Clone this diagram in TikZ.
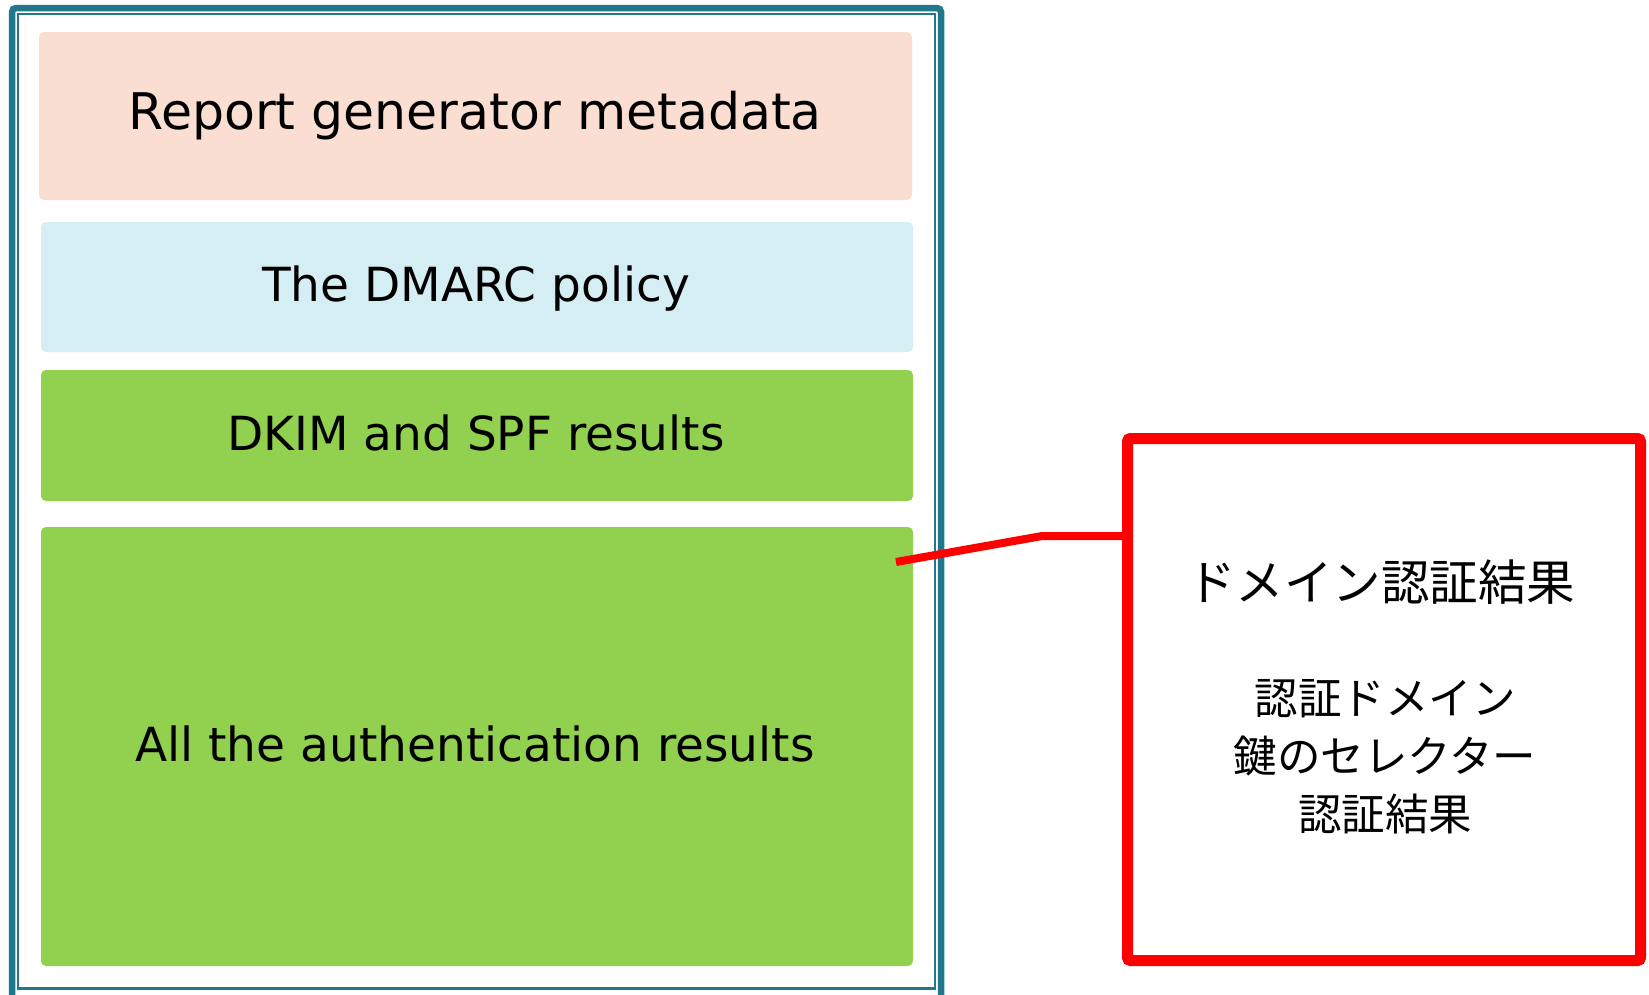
\documentclass[tikz,border=0pt]{standalone}
\usepackage{fontspec}
\setmainfont{DejaVu Sans}
\newfontfamily\jp{Noto Sans CJK JP}
\definecolor{teal1}{RGB}{33,119,140}
\definecolor{salmon1}{RGB}{250,222,210}
\definecolor{blue1}{RGB}{213,238,244}
\definecolor{green1}{RGB}{146,208,80}
\definecolor{red1}{RGB}{255,0,0}
\tikzset{
  panel/.style={draw=none, rounded corners=5pt, inner sep=0pt},
  ptext/.style={anchor=base, inner sep=0pt, text=black, font=\fontsize{47}{54}\selectfont},
  calloutbox/.style={draw=red1, line width=11pt, rounded corners=3pt, fill=white, inner sep=0pt},
  conn/.style={draw=red1, line width=8pt},
  jptitle/.style={font=\jp\fontsize{48.5}{56}\selectfont, inner sep=0pt},
  jpbody/.style={font=\jp\fontsize{43.5}{58}\selectfont, align=center, inner sep=0pt},
}
\begin{document}
\begin{tikzpicture}[x=1pt,y=-1pt]
\useasboundingbox (0,0) rectangle (1649,994);
\fill[white] (0,0) rectangle (1649,994);
% outer frame
\draw[teal1, line width=6.5pt, rounded corners=4pt] (12,8) rectangle (941,1000);
\draw[teal1, line width=2.5pt] (18,14) rectangle (935,988.5);
% panels
\node[panel, fill=salmon1, minimum width=873pt, minimum height=168pt] (meta) at (475.5,116) {};
\node[panel, fill=blue1, minimum width=872pt, minimum height=130pt] (policy) at (477,287) {};
\node[panel, fill=green1, minimum width=872pt, minimum height=131pt] (dkim) at (477,435.5) {};
\node[panel, fill=green1, minimum width=872pt, minimum height=439pt] (auth) at (477,746.5) {};
\node[ptext, font=\fontsize{50.5}{58}\selectfont] (metat) at (475,129) {Report generator metadata};
\node[ptext] (policyt) at (476,301) {The DMARC policy};
\node[ptext] (dkimt) at (476,450) {DKIM and SPF results};
\node[ptext] (autht) at (475,761) {All the authentication results};
% callout
\node[calloutbox, minimum width=513pt, minimum height=522pt] (rbox) at (1384,699.5) {};
\node[jptitle] (title) at (1381,582) {ドメイン認証結果};
\node[jpbody] (body) at (1385,757) {認証ドメイン\\鍵のセレクター\\認証結果};
\coordinate (cs) at (896,562);
\coordinate (bend) at (1042,536);
\draw[conn] (cs) -- (bend) -- (bend -| rbox.west);
\end{tikzpicture}
\end{document}
